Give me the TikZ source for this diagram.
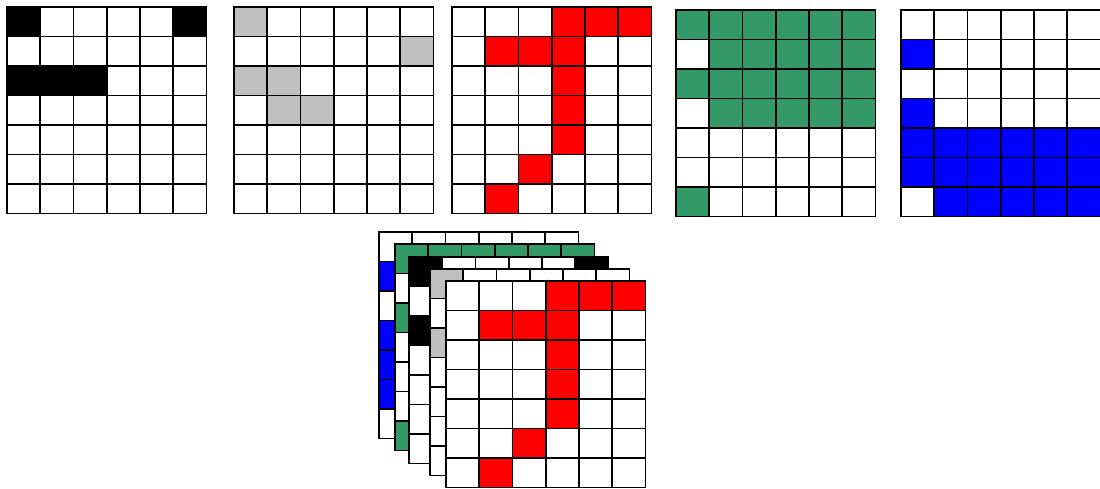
\documentclass[tikz,border=0pt]{standalone}
\definecolor{cgreen}{RGB}{51,153,102}
\definecolor{cgray}{RGB}{192,192,192}
\definecolor{cred}{RGB}{255,0,0}
\definecolor{cblue}{RGB}{0,0,255}
\def\cw{33.25}
\def\ch{29.5}
\newcommand\drawgrid[4]{%
  \begin{scope}[shift={(#1,#2)}]
    \fill[white] (0,0) rectangle (6*\cw,7*\ch);
    \foreach \r/\c in {#4} {\fill[#3] (\c*\cw,\r*\ch) rectangle ++(\cw,\ch);}
    \foreach \i in {0,...,6} {\draw[gridline] (\i*\cw,0) -- (\i*\cw,7*\ch);}
    \foreach \j in {0,...,7} {\draw[gridline] (0,\j*\ch) -- (6*\cw,\j*\ch);}
  \end{scope}}
\begin{document}
\begin{tikzpicture}[x=1pt,y=-1pt,gridline/.style={black,line width=1.8pt,line cap=rect}]
\useasboundingbox (0,0) rectangle (1100,488);
\fill[white] (0,0) rectangle (1100,488);
% top row
\drawgrid{7}{7}{black}{0/0,0/5,2/0,2/1,2/2}
\drawgrid{234}{7}{cgray}{0/0,1/5,2/0,2/1,3/1,3/2}
\drawgrid{452}{7}{cred}{0/3,0/4,0/5,1/1,1/2,1/3,2/3,3/3,4/3,5/2,6/1}
\drawgrid{676}{10}{cgreen}{0/0,0/1,0/2,0/3,0/4,0/5,1/1,1/2,1/3,1/4,1/5,2/0,2/1,2/2,2/3,2/4,2/5,3/1,3/2,3/3,3/4,3/5,6/0}
\drawgrid{901}{10}{cblue}{1/0,3/0,4/0,4/1,4/2,4/3,4/4,4/5,5/0,5/1,5/2,5/3,5/4,5/5,6/1,6/2,6/3,6/4,6/5}
% stack
\drawgrid{379}{232}{cblue}{1/0,3/0,4/0,4/1,4/2,4/3,4/4,4/5,5/0,5/1,5/2,5/3,5/4,5/5,6/1,6/2,6/3,6/4,6/5}
\drawgrid{395}{244}{cgreen}{0/0,0/1,0/2,0/3,0/4,0/5,1/1,1/2,1/3,1/4,1/5,2/0,2/1,2/2,2/3,2/4,2/5,3/1,3/2,3/3,3/4,3/5,6/0}
\drawgrid{409}{257}{black}{0/0,0/5,2/0,2/1,2/2}
\drawgrid{430}{269}{cgray}{0/0,1/5,2/0,2/1,3/1,3/2}
\drawgrid{446}{281}{cred}{0/3,0/4,0/5,1/1,1/2,1/3,2/3,3/3,4/3,5/2,6/1}
\end{tikzpicture}
\end{document}
